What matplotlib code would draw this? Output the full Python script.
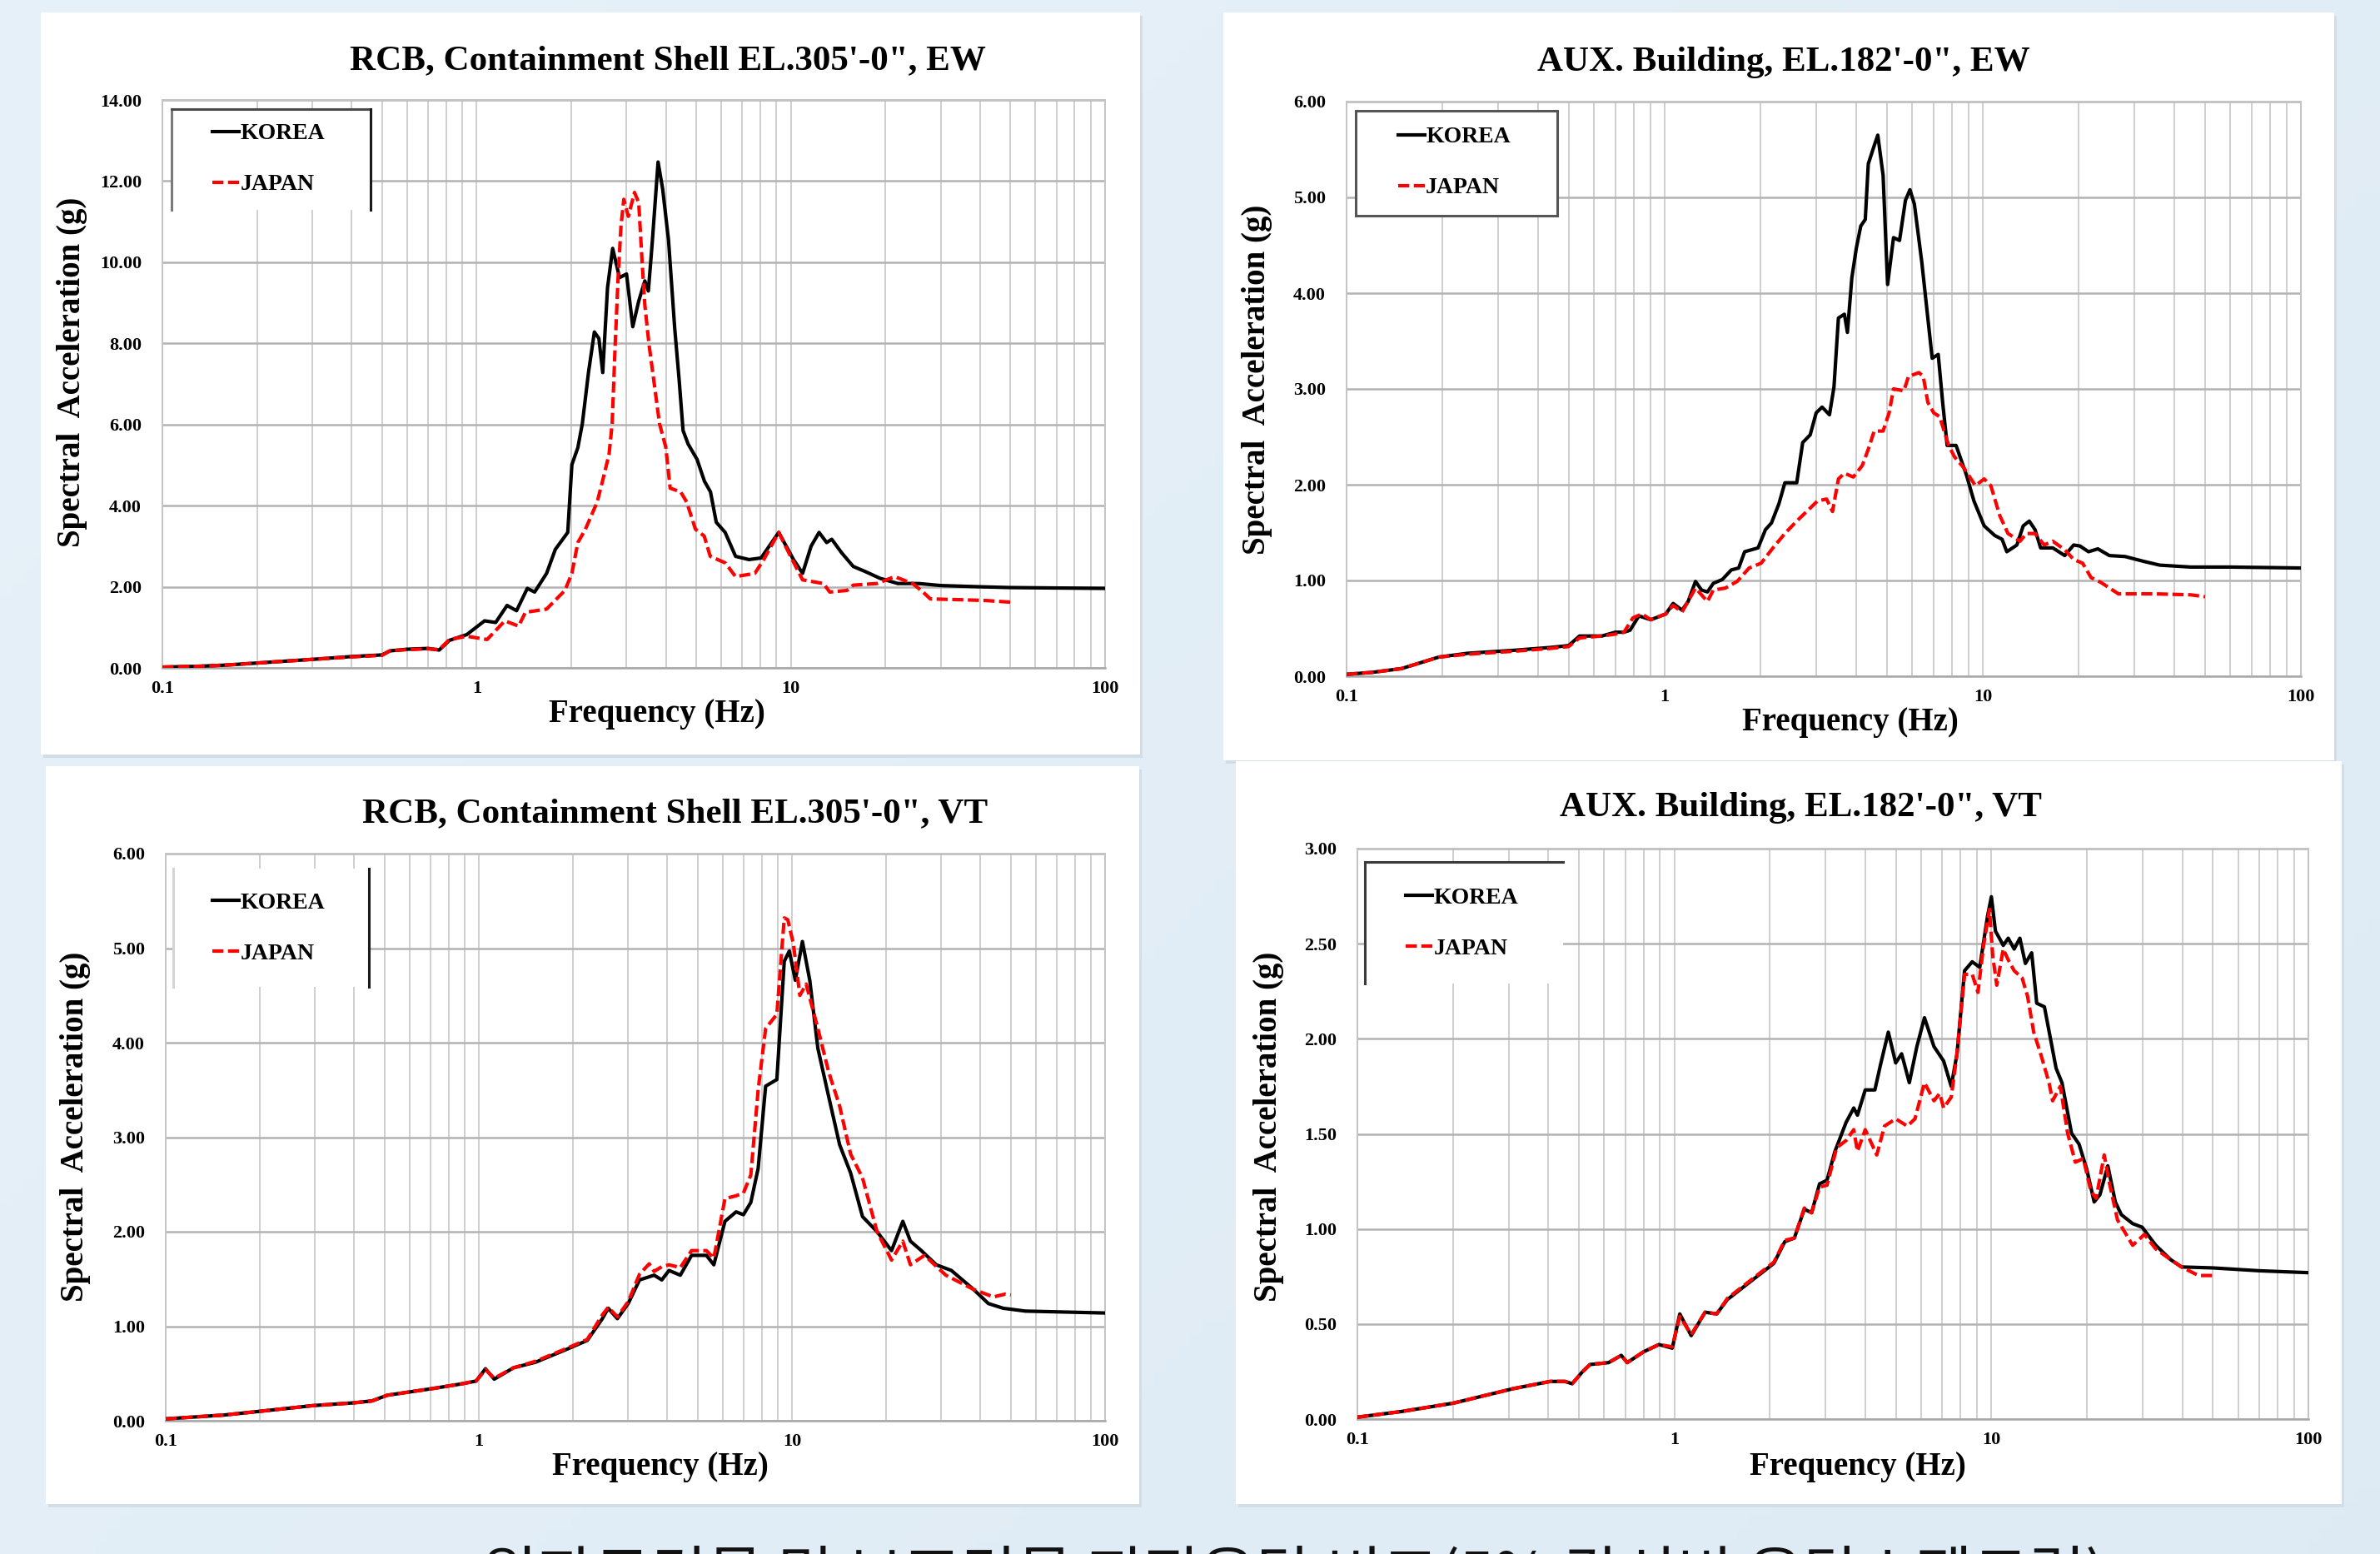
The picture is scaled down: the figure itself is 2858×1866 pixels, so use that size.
import matplotlib
matplotlib.use('Agg')
import matplotlib.pyplot as plt
import numpy as np
from matplotlib.patches import Rectangle
from matplotlib.lines import Line2D
from matplotlib.ticker import FixedLocator, FuncFormatter, NullFormatter

# ---------------- data ----------------
# Panel 1: RCB, Containment Shell EL.305'-0", EW
rcb_ew_korea_f = [0.10, 0.13, 0.16, 0.20, 0.25, 0.30, 0.40, 0.50, 0.53, 0.60, 0.70, 0.76, 0.82, 0.93,
                  1.06, 1.15, 1.25, 1.34, 1.45, 1.53, 1.67, 1.78, 1.95, 2.01, 2.10, 2.17, 2.27, 2.37,
                  2.45, 2.52, 2.61, 2.71, 2.85, 3.00, 3.14, 3.28, 3.43, 3.52, 3.62, 3.78, 3.91, 4.08,
                  4.27, 4.41, 4.54, 4.71, 5.03, 5.31, 5.55, 5.79, 6.18, 6.67, 7.36, 8.04, 9.15, 10.2,
                  10.9, 11.6, 12.3, 13.0, 13.5, 14.5, 15.8, 17.2, 19.2, 21.9, 25.5, 30.0, 40.0, 50.0,
                  70.0, 100.0]
rcb_ew_korea_sa = [0.02, 0.04, 0.07, 0.12, 0.17, 0.21, 0.28, 0.32, 0.42, 0.46, 0.48, 0.44, 0.68, 0.82,
                   1.16, 1.12, 1.54, 1.41, 1.96, 1.87, 2.33, 2.92, 3.34, 5.01, 5.43, 6.02, 7.28, 8.28,
                   8.12, 7.28, 9.37, 10.34, 9.62, 9.71, 8.41, 9.04, 9.54, 9.29, 10.46, 12.47, 11.80, 10.55,
                   8.37, 7.11, 5.85, 5.52, 5.14, 4.60, 4.34, 3.59, 3.34, 2.75, 2.67, 2.71, 3.34, 2.67,
                   2.33, 3.00, 3.34, 3.09, 3.17, 2.84, 2.50, 2.38, 2.21, 2.08, 2.08, 2.03, 2.00, 1.98,
                   1.97, 1.96]
rcb_ew_japan_f = [0.10, 0.13, 0.16, 0.20, 0.25, 0.30, 0.40, 0.50, 0.53, 0.60, 0.70, 0.76, 0.82, 0.93,
                  1.08, 1.23, 1.36, 1.43, 1.67, 1.91, 2.01, 2.10, 2.22, 2.42, 2.53, 2.64, 2.70, 2.76,
                  2.82, 2.88, 2.94, 3.04, 3.18, 3.28, 3.36, 3.43, 3.54, 3.66, 3.82, 4.00, 4.13, 4.46,
                  4.66, 4.97, 5.30, 5.54, 6.18, 6.67, 7.68, 8.20, 9.15, 9.98, 10.9, 12.7, 13.3, 15.1,
                  15.8, 18.8, 21.4, 24.4, 26.0, 27.8, 35.0, 42.0, 50.0]
rcb_ew_japan_sa = [0.02, 0.04, 0.07, 0.12, 0.17, 0.21, 0.27, 0.31, 0.42, 0.45, 0.47, 0.45, 0.70, 0.78,
                   0.70, 1.16, 1.03, 1.37, 1.45, 1.91, 2.33, 3.09, 3.42, 4.09, 4.68, 5.27, 6.02, 7.95,
                   9.62, 10.88, 11.55, 11.13, 11.72, 11.47, 10.05, 8.95, 7.95, 7.11, 6.02, 5.44, 4.43, 4.34,
                   4.09, 3.42, 3.25, 2.75, 2.59, 2.25, 2.33, 2.67, 3.34, 2.75, 2.17, 2.08, 1.87, 1.91,
                   2.04, 2.08, 2.25, 2.08, 1.91, 1.70, 1.68, 1.66, 1.62]

# Panel 2: AUX. Building, EL.182'-0", EW
aux_ew_korea_f = [0.10, 0.12, 0.149, 0.195, 0.241, 0.333, 0.436, 0.499, 0.54, 0.635, 0.70, 0.745, 0.778,
                  0.830, 0.905, 1.008, 1.063, 1.134, 1.185, 1.250, 1.306, 1.363, 1.422, 1.518, 1.620,
                  1.709, 1.784, 1.966, 2.074, 2.166, 2.286, 2.387, 2.601, 2.716, 2.867, 2.994, 3.125,
                  3.297, 3.406, 3.517, 3.673, 3.754, 3.876, 4.004, 4.134, 4.272, 4.366, 4.557, 4.677,
                  4.860, 5.021, 5.241, 5.474, 5.714, 5.903, 6.095, 6.433, 6.718, 6.934, 7.243, 7.479,
                  7.727, 8.241, 8.887, 9.38, 10.1, 10.9, 11.5, 11.9, 12.8, 13.4, 14.0, 14.6, 15.2, 16.6,
                  18.1, 19.3, 20.2, 21.5, 23.0, 25.0, 28.0, 32.0, 36.0, 45.0, 60.0, 100.0]
aux_ew_korea_sa = [0.02, 0.04, 0.08, 0.20, 0.24, 0.27, 0.30, 0.32, 0.42, 0.42, 0.46, 0.46, 0.48,
                   0.63, 0.59, 0.65, 0.76, 0.69, 0.78, 0.99, 0.90, 0.88, 0.97, 1.01, 1.11,
                   1.13, 1.30, 1.34, 1.53, 1.60, 1.80, 2.02, 2.02, 2.44, 2.52, 2.75, 2.81,
                   2.73, 3.02, 3.74, 3.78, 3.59, 4.16, 4.47, 4.70, 4.77, 5.35, 5.54, 5.65,
                   5.23, 4.09, 4.58, 4.55, 4.97, 5.08, 4.93, 4.32, 3.74, 3.32, 3.36, 2.86,
                   2.41, 2.41, 2.10, 1.83, 1.57, 1.47, 1.43, 1.30, 1.37, 1.57, 1.62, 1.53, 1.34, 1.34,
                   1.26, 1.37, 1.36, 1.30, 1.33, 1.26, 1.25, 1.20, 1.16, 1.14, 1.14, 1.13]
aux_ew_japan_f = [0.10, 0.12, 0.149, 0.195, 0.241, 0.333, 0.436, 0.499, 0.54, 0.635, 0.70, 0.745, 0.795,
                  0.848, 0.905, 1.008, 1.063, 1.134, 1.250, 1.363, 1.422, 1.55, 1.69, 1.843, 2.01, 2.19,
                  2.387, 2.601, 2.835, 3.024, 3.228, 3.37, 3.517, 3.673, 3.917, 4.18, 4.366, 4.557, 4.860,
                  5.076, 5.241, 5.65, 5.84, 6.30, 6.50, 6.718, 7.01, 7.32, 7.81, 8.15, 8.70, 9.48, 10.1,
                  10.6, 11.3, 12.0, 13.1, 13.7, 14.6, 15.6, 16.6, 18.1, 19.3, 20.6, 21.9, 23.5, 26.7,
                  35.0, 45.0, 50.0]
aux_ew_japan_sa = [0.02, 0.04, 0.08, 0.20, 0.23, 0.26, 0.29, 0.31, 0.40, 0.42, 0.44, 0.46, 0.61,
                   0.65, 0.59, 0.65, 0.74, 0.67, 0.92, 0.78, 0.90, 0.92, 0.99, 1.13, 1.18, 1.34,
                   1.49, 1.62, 1.74, 1.83, 1.85, 1.72, 2.06, 2.12, 2.08, 2.20, 2.37, 2.56, 2.56,
                   2.75, 3.00, 2.98, 3.13, 3.17, 3.13, 2.86, 2.75, 2.71, 2.41, 2.29, 2.18, 1.99, 2.06,
                   1.99, 1.68, 1.49, 1.41, 1.49, 1.49, 1.37, 1.41, 1.32, 1.22, 1.18, 1.03, 0.98, 0.86,
                   0.86, 0.85, 0.83]

# Panel 3: RCB, Containment Shell EL.305'-0", VT
rcb_vt_korea_f = [0.10, 0.153, 0.20, 0.295, 0.40, 0.456, 0.51, 0.71, 0.88, 0.98, 1.05, 1.12, 1.29, 1.52,
                  1.89, 2.22, 2.48, 2.59, 2.77, 3.00, 3.26, 3.63, 3.84, 4.05, 4.40, 4.78, 5.33, 5.63,
                  6.11, 6.63, 7.00, 7.39, 7.80, 8.24, 8.95, 9.45, 9.81, 10.25, 10.8, 11.4, 12.1, 13.1,
                  14.2, 15.4, 16.8, 18.7, 20.8, 22.6, 23.9, 25.9, 28.9, 32.3, 38.0, 42.4, 47.3, 55.7,
                  100.0]
rcb_vt_korea_sa = [0.02, 0.06, 0.10, 0.16, 0.19, 0.21, 0.27, 0.34, 0.39, 0.42, 0.55, 0.44, 0.56, 0.62,
                   0.75, 0.85, 1.08, 1.19, 1.08, 1.24, 1.49, 1.54, 1.49, 1.59, 1.54, 1.75, 1.75, 1.65,
                   2.11, 2.21, 2.18, 2.31, 2.67, 3.54, 3.61, 4.86, 4.97, 4.66, 5.07, 4.66, 3.94, 3.43,
                   2.92, 2.62, 2.16, 2.00, 1.80, 2.11, 1.90, 1.80, 1.65, 1.59, 1.39, 1.24, 1.19, 1.16,
                   1.14]
rcb_vt_japan_f = [0.10, 0.153, 0.20, 0.295, 0.40, 0.456, 0.51, 0.71, 0.88, 0.98, 1.05, 1.12, 1.29, 1.52,
                  1.89, 2.22, 2.48, 2.59, 2.77, 3.00, 3.26, 3.50, 3.63, 3.84, 4.05, 4.40, 4.78, 5.33,
                  5.63, 6.11, 6.63, 7.00, 7.39, 7.80, 8.24, 8.95, 9.45, 9.70, 10.1, 10.6, 11.1, 12.1,
                  13.1, 14.2, 15.4, 16.8, 18.7, 20.8, 22.6, 23.9, 26.5, 31.0, 38.0, 44.0, 48.0, 50.0]
rcb_vt_japan_sa = [0.02, 0.06, 0.10, 0.16, 0.19, 0.21, 0.27, 0.34, 0.39, 0.42, 0.54, 0.45, 0.56, 0.63,
                   0.76, 0.86, 1.12, 1.20, 1.10, 1.26, 1.55, 1.66, 1.58, 1.63, 1.65, 1.62, 1.80, 1.80,
                   1.72, 2.35, 2.38, 2.41, 2.60, 3.50, 4.15, 4.30, 5.32, 5.30, 5.05, 4.50, 4.62, 4.15,
                   3.69, 3.33, 2.82, 2.57, 2.00, 1.70, 1.90, 1.65, 1.75, 1.54, 1.39, 1.31, 1.34, 1.33]

# Panel 4: AUX. Building, EL.182'-0", VT
aux_vt_korea_f = [0.10, 0.138, 0.201, 0.31, 0.406, 0.452, 0.476, 0.513, 0.542, 0.62, 0.68, 0.71, 0.80,
                  0.894, 0.985, 1.04, 1.13, 1.25, 1.36, 1.47, 1.74, 2.06, 2.23, 2.39, 2.57, 2.71, 2.87,
                  3.03, 3.21, 3.48, 3.68, 3.78, 4.00, 4.29, 4.47, 4.73, 4.99, 5.21, 5.51, 5.82, 6.15,
                  6.59, 7.07, 7.47, 7.79, 8.23, 8.70, 9.19, 9.72, 10.0, 10.3, 10.6, 10.9, 11.3, 11.8,
                  12.3, 12.8, 13.4, 13.9, 14.7, 16.0, 16.7, 17.9, 18.9, 20.0, 21.1, 22.0, 23.3, 24.6,
                  25.7, 27.9, 29.9, 33.0, 36.8, 39.8, 50.0, 70.0, 100.0]
aux_vt_korea_sa = [0.01, 0.04, 0.084, 0.16, 0.198, 0.198, 0.186, 0.249, 0.287, 0.297, 0.335, 0.297, 0.354,
                   0.392, 0.373, 0.553, 0.439, 0.562, 0.553, 0.629, 0.724, 0.819, 0.933, 0.952, 1.104,
                   1.085, 1.237, 1.256, 1.408, 1.560, 1.636, 1.598, 1.731, 1.731, 1.864, 2.035, 1.873,
                   1.921, 1.769, 1.959, 2.111, 1.959, 1.883, 1.750, 1.921, 2.358, 2.405, 2.376, 2.643,
                   2.747, 2.566, 2.529, 2.491, 2.529, 2.472, 2.529, 2.396, 2.452, 2.187, 2.168, 1.845,
                   1.769, 1.503, 1.446, 1.313, 1.142, 1.180, 1.332, 1.142, 1.075, 1.028, 1.009, 0.914,
                   0.838, 0.800, 0.795, 0.78, 0.77]
aux_vt_japan_f = [0.10, 0.138, 0.201, 0.31, 0.406, 0.452, 0.476, 0.513, 0.542, 0.62, 0.68, 0.71, 0.80,
                  0.894, 0.985, 1.04, 1.13, 1.25, 1.36, 1.47, 1.74, 2.06, 2.23, 2.39, 2.57, 2.71, 2.87,
                  3.03, 3.25, 3.48, 3.68, 3.78, 4.00, 4.35, 4.60, 4.99, 5.43, 5.74, 6.15, 6.59, 6.87,
                  7.07, 7.47, 7.79, 8.23, 8.70, 9.07, 9.45, 9.86, 10.1, 10.4, 10.9, 11.3, 11.8, 12.5,
                  13.0, 13.6, 14.3, 15.2, 15.6, 16.5, 17.4, 18.4, 19.5, 20.6, 21.4, 22.7, 23.6, 25.0,
                  27.9, 30.4, 33.0, 36.8, 39.8, 45.0, 50.0]
aux_vt_japan_sa = [0.01, 0.04, 0.084, 0.16, 0.198, 0.198, 0.186, 0.249, 0.287, 0.297, 0.335, 0.297, 0.354,
                   0.392, 0.380, 0.540, 0.445, 0.562, 0.553, 0.635, 0.730, 0.825, 0.940, 0.952, 1.110,
                   1.085, 1.220, 1.230, 1.427, 1.465, 1.522, 1.408, 1.522, 1.389, 1.541, 1.579, 1.541,
                   1.579, 1.769, 1.674, 1.712, 1.636, 1.693, 1.921, 2.339, 2.339, 2.244, 2.491, 2.681,
                   2.434, 2.282, 2.472, 2.415, 2.358, 2.320, 2.225, 2.035, 1.921, 1.769, 1.674, 1.750,
                   1.503, 1.351, 1.370, 1.199, 1.161, 1.389, 1.237, 1.047, 0.914, 0.971, 0.895, 0.838,
                   0.800, 0.755, 0.755]

titles = ["RCB, Containment Shell EL.305'-0\", EW", "AUX. Building, EL.182'-0\", EW",
          "RCB, Containment Shell EL.305'-0\", VT", "AUX. Building, EL.182'-0\", VT"]
series_names = ["KOREA", "JAPAN"]
y_max = [14.0, 6.0, 6.0, 3.0]
y_step = [2.0, 1.0, 1.0, 0.5]
x_tick_values = [0.1, 1, 10, 100]
x_tick_labels = ["0.1", "1", "10", "100"]
y_label = "Spectral  Acceleration (g)"
x_label = "Frequency (Hz)"
caption = "원자로건물 및 보조건물 지진응답 비교(5% 감쇠비 응답스펙트럼)"

# ---------------- layout ----------------
W, H = 2858, 1866
DPI = 100
SERIF = ['Liberation Serif', 'DejaVu Serif']
fig = plt.figure(figsize=(W / DPI, H / DPI), dpi=DPI)


def fx(px):
    return px / W


def fy(py):
    return 1 - py / H


# background gradient
bg = fig.add_axes([0, 0, 1, 1], zorder=-10)
xs = np.linspace(0, 1, 200)
ys = np.linspace(0, 1, 120)
XX, YY = np.meshgrid(xs, ys)
c1 = np.array([0.905, 0.945, 0.975])
c2 = np.array([0.870, 0.920, 0.958])
t = (0.6 * XX + 0.4 * YY)[..., None]
grad = c1 * (1 - t) + c2 * t
bg.imshow(grad, aspect='auto', extent=[0, 1, 0, 1], origin='upper')
bg.set_axis_off()

# panel (white card) rectangles in pixels: x0, y0, x1, y1
panels_px = [(49, 15, 1369, 906), (1469, 15, 2803, 913), (55, 920, 1368, 1806), (1484, 914, 2812, 1806)]
# axes (plot area) in pixels: x0 (0.1Hz), y_top, x1 (100Hz), y_bottom
axes_px = [(195, 120, 1327, 802), (1617, 122, 2763, 812), (199, 1025, 1327, 1706), (1630, 1019, 2772, 1704)]
title_px = [(802, 73), (2142, 75), (811, 977), (2162, 970)]
ylab_px = [(87, 447), (1509, 456), (91, 1353), (1524, 1353)]
xlab_px = [(789, 857), (2222, 868), (793, 1761), (2231, 1761)]
# legend boxes in axes fraction: x0, x1, y0, y1, and which borders to draw
leg_box = [(0.010, 0.221, 0.806, 0.984), (0.0096, 0.221, 0.801, 0.984),
           (0.008, 0.216, 0.765, 0.974), (0.008, 0.216, 0.764, 0.977)]
leg_sides = [{'left': '#7a7a7a', 'top': '#4a4a4a', 'right': '#1a1a1a'},
             {'left': '#555555', 'top': '#555555', 'right': '#555555', 'bottom': '#555555'},
             {'left': '#d4d4d4', 'right': '#1a1a1a'},
             {'left': '#3a3a3a', 'top': '#3a3a3a'}]
leg_rows = [(0.941, 0.850), (0.939, 0.849), (0.921, 0.816), (0.923, 0.816)]
leg_x = [0.053, 0.054, 0.050, 0.051]

data = [
    (rcb_ew_korea_f, rcb_ew_korea_sa, rcb_ew_japan_f, rcb_ew_japan_sa),
    (aux_ew_korea_f, aux_ew_korea_sa, aux_ew_japan_f, aux_ew_japan_sa),
    (rcb_vt_korea_f, rcb_vt_korea_sa, rcb_vt_japan_f, rcb_vt_japan_sa),
    (aux_vt_korea_f, aux_vt_korea_sa, aux_vt_japan_f, aux_vt_japan_sa),
]

for i in range(4):
    px0, py0, px1, py1 = panels_px[i]
    # soft shadow + white card
    fig.patches.append(Rectangle((fx(px0 + 3), fy(py1 + 4)), (px1 - px0) / W, (py1 - py0) / H,
                                 transform=fig.transFigure, facecolor='#d3dde6', edgecolor='none', zorder=-5))
    fig.patches.append(Rectangle((fx(px0), fy(py1)), (px1 - px0) / W, (py1 - py0) / H,
                                 transform=fig.transFigure, facecolor='white', edgecolor='none', zorder=-4))

    ax0, ay0, ax1, ay1 = axes_px[i]
    ax = fig.add_axes([fx(ax0), fy(ay1), (ax1 - ax0) / W, (ay1 - ay0) / H])
    ax.set_facecolor('none')
    kf, ks, jf, js = data[i]
    lk, = ax.plot(kf, ks, color='black', lw=3.0, solid_joinstyle='round', zorder=4)
    lj, = ax.plot(jf, js, color='#ff0000', lw=3.0, linestyle=(0, (3.2, 1.3)), zorder=5)

    ax.set_xscale('log')
    ax.set_xlim(0.1, 100)
    ax.set_ylim(0, y_max[i])
    ax.xaxis.set_major_locator(FixedLocator(x_tick_values))
    ax.xaxis.set_major_formatter(FuncFormatter(
        lambda v, p: dict(zip(x_tick_values, x_tick_labels)).get(v, "")))
    minor = [m * d for d in (0.1, 1, 10) for m in range(2, 10)]
    ax.xaxis.set_minor_locator(FixedLocator(minor))
    ax.xaxis.set_minor_formatter(NullFormatter())
    yt = np.arange(0, y_max[i] + 1e-9, y_step[i])
    ax.yaxis.set_major_locator(FixedLocator(yt))
    ax.yaxis.set_major_formatter(FuncFormatter(lambda v, p: f"{v:.2f}"))

    ax.grid(True, which='major', axis='y', color='#b3b3b3', lw=1.8, zorder=0)
    ax.grid(True, which='both', axis='x', color='#cbcbcb', lw=1.3, zorder=0)
    ax.tick_params(axis='both', which='both', length=0)
    ax.tick_params(axis='y', pad=18)
    ax.tick_params(axis='x', pad=11)
    for lab in ax.get_xticklabels() + ax.get_yticklabels():
        lab.set_fontfamily(SERIF)
        lab.set_fontweight('bold')
        lab.set_fontsize(16)
    for s in ax.spines.values():
        s.set_color('#c4c4c4')
        s.set_linewidth(1.4)
    ax.spines['bottom'].set_color('#a8a8a8')
    ax.spines['bottom'].set_linewidth(1.8)

    # legend
    ya, yb = leg_rows[i]
    leg = ax.legend([lk, lj], series_names, loc='center left', bbox_to_anchor=(leg_x[i], (ya + yb) / 2),
                    frameon=False, borderpad=0, borderaxespad=0, handlelength=1.15, handletextpad=0.05,
                    labelspacing=1.28, prop={'family': SERIF, 'weight': 'bold', 'size': 20})
    leg.set_zorder(6)
    bx0, bx1, by0, by1 = leg_box[i]
    sides = leg_sides[i]
    segs = {'left': ([bx0, bx0], [by0, by1]), 'right': ([bx1, bx1], [by0, by1]),
            'top': ([bx0, bx1], [by1, by1]), 'bottom': ([bx0, bx1], [by0, by0])}
    # white fill behind legend
    ax.add_patch(Rectangle((bx0, by0), bx1 - bx0, by1 - by0, transform=ax.transAxes,
                           facecolor='white', edgecolor='none', zorder=3))
    for side, col in sides.items():
        xsg, ysg = segs[side]
        ax.add_line(Line2D(xsg, ysg, transform=ax.transAxes, color=col, lw=2.2, zorder=6, clip_on=False))

    # texts
    tx, ty = title_px[i]
    fig.text(fx(tx), fy(ty), titles[i], ha='center', va='center', fontsize=31,
             fontfamily=SERIF, fontweight='bold')
    lx, ly = ylab_px[i]
    fig.text(fx(lx), fy(ly), y_label, ha='center', va='center', rotation=90, fontsize=28,
             fontfamily=SERIF, fontweight='bold')
    xx, xy = xlab_px[i]
    fig.text(fx(xx), fy(xy), x_label, ha='center', va='center', fontsize=28,
             fontfamily=SERIF, fontweight='bold')

# caption (partly cut by the bottom edge, as in the reference)
fig.text(fx(1554), fy(1856 + 61), caption, ha='center', va='baseline', fontsize=53,
         family=['Noto Sans CJK KR', 'DejaVu Sans'], color='#111111')

fig.savefig('out.png', dpi=DPI)
